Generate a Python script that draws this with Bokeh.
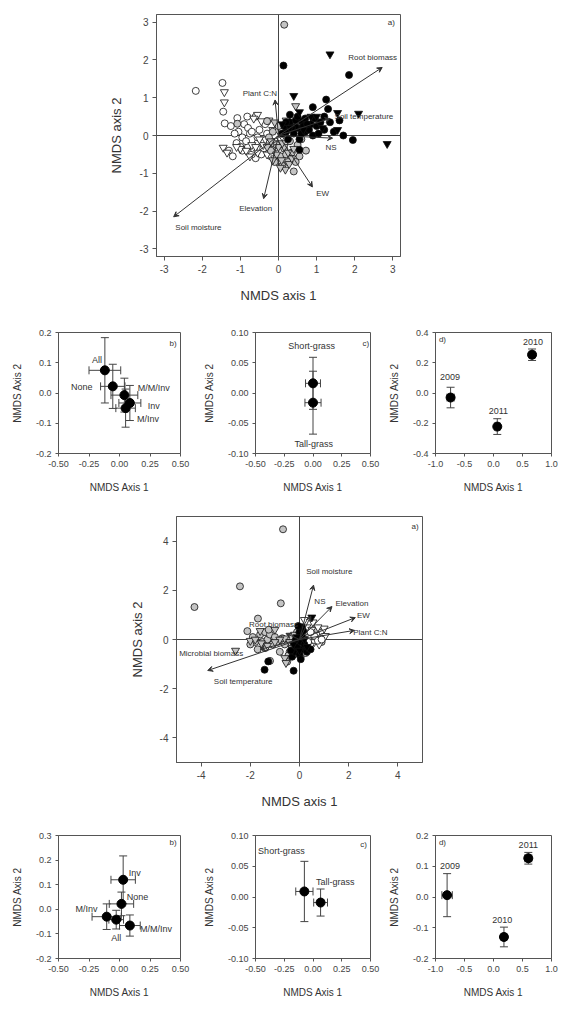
from bokeh.plotting import figure
from bokeh.layouts import column, row
from bokeh.models import (ColumnDataSource, Span, Arrow, VeeHead, Whisker, TeeHead,
                          FixedTicker, PrintfTickFormatter)
from bokeh.core.properties import value
from bokeh.embed import file_html
from bokeh.resources import INLINE

FONT = "Liberation Sans"

# ---------------- Panel 1a: NMDS site scores, first ordination ----------------
p1_open_circ_x = [-2.17, -1.47, -1.45, -1.41, -1.08, -0.82, -1.25, -1.05, -0.9, -0.8, -0.75, -0.95, -1.1, -1.3,
                  -1.2, -0.95, -0.8, -0.6, -0.7, -0.55, -0.5, -0.6, -0.35, -0.3, -0.4, -0.25, -0.15, -0.1, -0.55,
                  -0.85, -1.0, -0.65, -0.45, -0.2, -0.05, -0.7, -1.15]
p1_open_circ_y = [1.18, 1.39, 0.63, 0.32, 0.46, 0.5, 0.25, 0.1, 0.3, 0.2, 0.05, -0.05, -0.2, -0.4,
                  -0.55, -0.4, -0.3, -0.6, -0.5, -0.2, 0.15, 0.5, 0.3, 0.05, -0.35, -0.2, -0.45, 0.0, -0.05,
                  -0.15, -0.3, -0.35, -0.5, -0.55, -0.3, 0.1, 0.05]
p1_open_tri_x = [-1.42, -1.42, -1.45, -1.35, -0.55, -0.45, -0.65, -0.15, -0.25, -1.0, -0.85, -0.7, -0.55, -0.4,
                 -0.3, -0.2, -0.1, -0.75, -1.1, -0.6, -0.35, -0.05, 0.05, -0.5]
p1_open_tri_y = [1.15, 0.88, -0.32, -0.45, 0.55, 0.38, 0.45, 0.15, 0.4, -0.35, -0.4, -0.25, -0.45, -0.25,
                 -0.5, -0.35, -0.6, -0.55, -0.3, -0.3, -0.1, -0.2, -0.1, -0.1]
p1_gray_circ_x = [0.15, -0.3, -1.08, 0.1, -0.15, -0.05, 0.15, 0.35, 0.5, 0.72, 0.4, 0.25, 0.05, -0.2, 0.3,
                  0.55, -0.1, 0.2, 0.6, 0.0, -0.25, 0.45, 0.1]
p1_gray_circ_y = [2.93, 0.38, 0.31, 0.15, 0.1, -0.25, -0.35, -0.45, -0.25, -0.4, -0.95, -0.7, -0.55, -0.4, -0.15,
                  -0.55, -0.7, -0.5, -0.1, 0.25, -0.05, -0.7, -0.8]
p1_gray_tri_x = [0.45, 0.18, 0.08, 0.28, -0.05, 0.15, 0.35, 0.0, -0.15, 0.25, -0.3, 0.4, 0.1, -0.1, 0.2, 0.05, -0.2]
p1_gray_tri_y = [0.78, -0.9, -0.65, -0.75, -0.5, -0.3, -0.6, -0.3, -0.65, -0.45, -0.3, -0.35, -0.2, 0.35, 0.4,
                 -0.85, -0.15]
p1_black_circ_x = [0.13, 1.85, 1.25, 0.9, 1.3, 1.2, 1.35, 1.6, 1.7, 1.95, 0.85, 0.3, 0.5, 0.6, 0.2, 0.4, 0.7,
                   1.0, 0.55, 0.55, 0.9, 0.3, 0.45, 0.15, 0.25, 1.1, 0.95, 0.7, 0.65, 0.45, 0.8, 1.05, 0.35,
                   0.2, 0.6, 0.75, 1.45, 1.2, 0.5, 0.1]
p1_black_circ_y = [1.85, 1.6, 0.95, 0.75, 0.7, 0.5, 0.35, 0.4, 0.0, -0.12, 0.3, 0.35, 0.2, 0.38, 0.1, 0.05, 0.1,
                   0.25, -0.1, -0.38, 0.0, 0.55, 0.4, 0.25, -0.1, 0.35, 0.45, 0.45, 0.25, 0.22, 0.15, 0.05, 0.2,
                   0.35, 0.05, 0.3, 0.1, 0.15, 0.5, 0.05]
p1_black_tri_x = [1.35, 2.1, 2.85, 0.4, 1.55, 1.55, 0.55, 0.85, 0.1, 0.3, 1.0, 0.65, 1.15]
p1_black_tri_y = [2.15, 0.58, -0.22, 1.05, 0.6, 0.15, 0.62, 0.5, 0.3, 0.2, 0.5, 0.15, 0.2]

p1_vectors = ["Root biomass", "Plant C:N", "Soil temperature", "NS", "EW", "Elevation", "Soil moisture"]
p1_vec_x = [2.72, -0.09, 1.35, 1.42, 0.89, -0.39, -2.75]
p1_vec_y = [1.80, 0.94, 0.45, -0.07, -1.36, -1.67, -2.15]
p1_vec_lab_x = [2.47, -0.49, 2.24, 1.38, 1.16, -0.6, -2.1]
p1_vec_lab_y = [2.06, 1.10, 0.50, -0.31, -1.53, -1.93, -2.43]

# ---------------- Panel 1b-d: group centroids, first ordination ----------------
b1_groups = ["All", "None", "M/M/Inv", "Inv", "M/Inv"]
b1_x = [-0.12, -0.055, 0.04, 0.085, 0.05]
b1_y = [0.075, 0.022, -0.007, -0.033, -0.05]
b1_xerr = [0.13, 0.10, 0.11, 0.09, 0.08]
b1_yerr = [0.108, 0.073, 0.056, 0.058, 0.063]
b1_lab_x = [-0.185, -0.31, 0.28, 0.28, 0.234]
b1_lab_y = [0.109, 0.021, 0.016, -0.043, -0.087]

c1_groups = ["Short-grass", "Tall-grass"]
c1_x = [0.0, 0.0]
c1_y = [0.016, -0.016]
c1_xerr = [0.065, 0.07]
c1_yerr = [0.043, 0.052]
c1_lab_x = [-0.012, 0.007]
c1_lab_y = [0.077, -0.085]

d1_years = ["2009", "2010", "2011"]
d1_x = [-0.74, 0.665, 0.065]
d1_y = [-0.03, 0.253, -0.222]
d1_xerr = [0.06, 0.05, 0.05]
d1_yerr = [0.068, 0.038, 0.052]
d1_lab_x = [-0.75, 0.68, 0.085]
d1_lab_y = [0.105, 0.34, -0.12]

# ---------------- Panel 2a: NMDS site scores, second ordination ----------------
p2_gray_circ_x = [-0.67, -2.42, -4.27, -0.76, -1.69, -2.12, -1.2, -1.9, -1.8, -1.6, -1.5, -1.4, -1.3, -1.2, -1.1,
                  -1.7, -1.4, -0.9, -0.6, -0.4, -0.5, -0.2, 0.05, 0.2, 0.1, -0.3, -0.1, 0.3, 0.5, 0.6, 0.8,
                  0.9, 0.4, 0.7, -1.25, -0.8, -0.3, 0.0, -2.0, -1.0, -0.45, 0.25, -0.7]
p2_gray_circ_y = [4.48, 2.16, 1.32, 1.47, 0.85, 0.34, -0.87, 0.1, -0.1, 0.2, -0.1, 0.3, 0.0, 0.2, -0.2,
                  -0.4, -0.35, -0.1, -0.2, -0.5, -0.9, -0.6, -0.7, -0.4, -0.2, 0.1, 0.3, 0.2, 0.3, 0.0, 0.1,
                  -0.1, -0.2, 0.4, 0.4, -0.5, -0.3, 0.0, -0.2, 0.1, -0.65, -0.55, 0.05]
p2_open_tri_x = [0.3, 0.5, 0.7, 0.9, 1.05, 0.6, 0.8, 0.4, 1.0, 0.2, 0.55, 0.75, 0.45]
p2_open_tri_y = [0.5, 0.4, 0.2, 0.3, 0.15, -0.1, -0.2, 0.1, 0.45, 0.8, 0.7, 0.5, -0.25]
p2_open_circ_x = [0.6, 0.75, 0.9, 0.45, 0.35]
p2_open_circ_y = [0.15, -0.05, 0.0, 0.3, -0.1]
p2_gray_tri_x = [-2.6, -2.0, -1.8, -1.55, -1.3, -1.6, -1.0, -0.6, -0.4, -0.6, -0.55, -0.3, -0.8, -1.0, -0.2,
                 0.0, -0.15]
p2_gray_tri_y = [-0.45, -0.05, 0.0, -0.15, -0.25, 0.35, 0.4, 0.05, -0.1, -0.75, -0.95, -0.35, 0.0, -0.1, 0.2,
                 0.2, -0.1]
p2_black_circ_x = [-1.27, -1.42, -0.24, -0.3, -0.2, 0.0, 0.1, -0.1, 0.05, 0.1, 0.0, 0.1, 0.2, -0.15, 0.3,
                   0.45, 0.05, -0.35, 0.15, -0.05]
p2_black_circ_y = [-0.89, -1.23, -1.27, -0.7, -0.5, -0.6, -0.4, -0.3, -0.1, 0.1, 0.3, 0.5, -0.2, 0.0, -0.5,
                   -0.4, -0.8, -0.45, 0.35, 0.55]
p2_black_tri_x = [0.5, 0.2, -0.1, 0.3, 0.0, -0.25]
p2_black_tri_y = [0.9, 0.0, 0.1, -0.3, -0.45, -0.2]

p2_vectors = ["Soil moisture", "NS", "Elevation", "EW", "Plant C:N", "Root biomass",
              "Microbial biomass", "Soil temperature"]
p2_vec_x = [0.57, 0.46, 1.32, 2.27, 2.23, -0.55, -1.6, -3.73]
p2_vec_y = [2.21, 0.95, 1.34, 0.89, 0.37, 0.25, -0.4, -1.26]
p2_vec_lab_x = [1.21, 0.83, 2.13, 2.6, 2.88, -1.06, -3.59, -2.29]
p2_vec_lab_y = [2.77, 1.54, 1.45, 0.98, 0.3, 0.59, -0.57, -1.7]

# ---------------- Panel 2b-d: group centroids, second ordination ----------------
b2_groups = ["Inv", "None", "M/Inv", "All", "M/M/Inv"]
b2_x = [0.03, 0.016, -0.105, -0.027, 0.085]
b2_y = [0.12, 0.022, -0.03, -0.042, -0.066]
b2_xerr = [0.10, 0.10, 0.12, 0.06, 0.085]
b2_yerr = [0.097, 0.048, 0.052, 0.038, 0.043]
b2_lab_x = [0.125, 0.148, -0.27, -0.027, 0.30]
b2_lab_y = [0.146, 0.049, 0.0, -0.118, -0.082]

c2_groups = ["Short-grass", "Tall-grass"]
c2_x = [-0.075, 0.066]
c2_y = [0.009, -0.009]
c2_xerr = [0.075, 0.06]
c2_yerr = [0.049, 0.022]
c2_lab_x = [-0.275, 0.194]
c2_lab_y = [0.074, 0.025]

d2_years = ["2009", "2010", "2011"]
d2_x = [-0.8, 0.18, 0.6]
d2_y = [0.006, -0.13, 0.126]
d2_xerr = [0.09, 0.05, 0.06]
d2_yerr = [0.07, 0.032, 0.019]
d2_lab_x = [-0.75, 0.15, 0.6]
d2_lab_y = [0.1, -0.075, 0.17]

AX_COL = "#555555"
TXT_COL = "#333333"


def make_fig(xr, yr, fw, fh, left, right, top, bottom, xticks, yticks, xfmt, yfmt,
             xlabel, ylabel, tick_px, lab_px, x_stand, y_stand, tick_out):
    # outer size is frame + borders, so the frame sits exactly at (left, top)
    p = figure(x_range=xr, y_range=yr, width=left + fw + right, height=top + fh + bottom,
               min_border_left=left, min_border_right=right,
               min_border_top=top, min_border_bottom=bottom,
               output_backend="svg", toolbar_location=None, tools="",
               background_fill_color="white", border_fill_color="white")
    p.outline_line_color = AX_COL
    p.outline_line_width = 1
    p.xgrid.visible = False
    p.ygrid.visible = False
    p.xaxis.ticker = FixedTicker(ticks=xticks)
    p.yaxis.ticker = FixedTicker(ticks=yticks)
    p.xaxis.formatter = PrintfTickFormatter(format=xfmt)
    p.yaxis.formatter = PrintfTickFormatter(format=yfmt)
    p.xaxis.axis_label = xlabel
    p.yaxis.axis_label = ylabel
    for ax in (p.xaxis, p.yaxis):
        ax.axis_line_color = AX_COL
        ax.major_tick_line_color = AX_COL
        ax.major_tick_in = 0
        ax.major_tick_out = tick_out
        ax.minor_tick_line_color = None
        ax.major_label_text_font = FONT
        ax.major_label_text_font_size = f"{tick_px}px"
        ax.major_label_text_color = "#444444"
        ax.major_label_standoff = 4
        ax.axis_label_text_font = FONT
        ax.axis_label_text_font_size = f"{lab_px}px"
        ax.axis_label_text_font_style = "normal"
        ax.axis_label_text_color = "#333333"
    p.xaxis.axis_label_standoff = x_stand
    p.yaxis.axis_label_standoff = y_stand
    return p


def add_text(p, xs, ys, texts, size, align="center"):
    src = ColumnDataSource(dict(x=xs, y=ys, t=texts))
    p.text("x", "y", text="t", source=src, text_font=value(FONT), text_font_size=f"{size}px",
           text_align=align, text_baseline="middle", text_color=TXT_COL)


def add_pts(p, xs, ys, marker, fill, size):
    p.scatter(xs, ys, marker=marker, size=size, fill_color=fill, line_color="#111111", line_width=0.8)


def add_vectors(p, xe, ye, head):
    src = ColumnDataSource(dict(x0=[0] * len(xe), y0=[0] * len(ye), x1=xe, y1=ye))
    p.add_layout(Arrow(source=src, x_start="x0", y_start="y0", x_end="x1", y_end="y1",
                       line_color="#333333", line_width=1,
                       end=VeeHead(size=head, line_color="#333333", fill_color="#333333", line_width=1)))


def add_zero_lines(p):
    p.add_layout(Span(location=0, dimension="height", line_color="#444444", line_width=1, level="underlay"))
    p.add_layout(Span(location=0, dimension="width", line_color="#444444", line_width=1, level="underlay"))


def add_centroids(p, xs, ys, xerr, yerr, cap):
    src = ColumnDataSource(dict(
        x=xs, y=ys,
        xl=[a - e for a, e in zip(xs, xerr)], xu=[a + e for a, e in zip(xs, xerr)],
        yl=[a - e for a, e in zip(ys, yerr)], yu=[a + e for a, e in zip(ys, yerr)]))
    for dim, base, lo, hi in (("height", "x", "yl", "yu"), ("width", "y", "xl", "xu")):
        p.add_layout(Whisker(source=src, base=base, lower=lo, upper=hi, dimension=dim,
                             line_color="#444444", line_width=1,
                             lower_head=TeeHead(size=cap, line_color="#444444", line_width=1),
                             upper_head=TeeHead(size=cap, line_color="#444444", line_width=1)))
    p.scatter("x", "y", source=src, marker="circle", size=9, fill_color="black", line_color="black")


# ---- first ordination, site scores ----
p1 = make_fig((-3.2, 3.2), (-3.2, 3.2), 244, 242, 156, 161, 14, 54,
              [-3, -2, -1, 0, 1, 2, 3], [-3, -2, -1, 0, 1, 2, 3], "%d", "%d",
              "NMDS axis 1", "NMDS axis 2", 10, 13, 12, 13, 4)
add_zero_lines(p1)
add_pts(p1, p1_open_circ_x, p1_open_circ_y, "circle", "white", 7)
add_pts(p1, p1_open_tri_x, p1_open_tri_y, "inverted_triangle", "white", 8)
add_pts(p1, p1_gray_circ_x, p1_gray_circ_y, "circle", "#c4c4c4", 7)
add_pts(p1, p1_gray_tri_x, p1_gray_tri_y, "inverted_triangle", "#c4c4c4", 8)
add_pts(p1, p1_black_circ_x, p1_black_circ_y, "circle", "black", 7)
add_pts(p1, p1_black_tri_x, p1_black_tri_y, "inverted_triangle", "black", 8)
add_vectors(p1, p1_vec_x, p1_vec_y, 5)
add_text(p1, p1_vec_lab_x, p1_vec_lab_y, p1_vectors, 8)
add_text(p1, [2.96], [2.98], ["a)"], 8)

# ---- first ordination, centroids ----
small = dict(tick_px=9, lab_px=10, x_stand=12, y_stand=10, tick_out=3)
b1 = make_fig((-0.5, 0.5), (-0.2, 0.2), 122, 121, 58, 20, 22, 47,
              [-0.5, -0.25, 0, 0.25, 0.5], [-0.2, -0.1, 0, 0.1, 0.2], "%.2f", "%.1f",
              "NMDS Axis 1", "NMDS Axis 2", **small)
add_centroids(b1, b1_x, b1_y, b1_xerr, b1_yerr, 8)
add_text(b1, b1_lab_x, b1_lab_y, b1_groups, 9)
add_text(b1, [0.44], [0.164], ["b)"], 8)

c1 = make_fig((-0.5, 0.5), (-0.1, 0.1), 121, 121, 49, 15, 22, 47,
              [-0.5, -0.25, 0, 0.25, 0.5], [-0.1, -0.05, 0, 0.05, 0.1], "%.2f", "%.2f",
              "NMDS Axis 1", "NMDS Axis 2", **small)
add_centroids(c1, c1_x, c1_y, c1_xerr, c1_yerr, 8)
add_text(c1, c1_lab_x, c1_lab_y, c1_groups, 9)
add_text(c1, [0.46], [0.082], ["c)"], 8)

d1 = make_fig((-1, 1), (-0.4, 0.4), 118, 121, 48, 10, 22, 47,
              [-1, -0.5, 0, 0.5, 1], [-0.4, -0.2, 0, 0.2, 0.4], "%.1f", "%.1f",
              "NMDS Axis 1", "NMDS Axis 2", **small)
add_centroids(d1, d1_x, d1_y, d1_xerr, d1_yerr, 8)
add_text(d1, d1_lab_x, d1_lab_y, d1_years, 9)
add_text(d1, [-0.88], [0.356], ["d)"], 8)

# ---- second ordination, site scores ----
p2 = make_fig((-5, 5), (-5, 5), 246, 246, 176, 139, 16, 53,
              [-4, -2, 0, 2, 4], [-4, -2, 0, 2, 4], "%d", "%d",
              "NMDS axis 1", "NMDS axis 2", 10, 13, 12, 12, 4)
add_zero_lines(p2)
add_pts(p2, p2_gray_circ_x, p2_gray_circ_y, "circle", "#c4c4c4", 7)
add_pts(p2, p2_gray_tri_x, p2_gray_tri_y, "inverted_triangle", "#c4c4c4", 8)
add_pts(p2, p2_open_tri_x, p2_open_tri_y, "inverted_triangle", "white", 8)
add_pts(p2, p2_open_circ_x, p2_open_circ_y, "circle", "white", 7)
add_pts(p2, p2_black_circ_x, p2_black_circ_y, "circle", "black", 7)
add_pts(p2, p2_black_tri_x, p2_black_tri_y, "inverted_triangle", "black", 8)
add_vectors(p2, p2_vec_x, p2_vec_y, 5)
add_text(p2, p2_vec_lab_x, p2_vec_lab_y, p2_vectors, 8)
add_text(p2, [4.7], [4.6], ["a)"], 8)

# ---- second ordination, centroids ----
b2 = make_fig((-0.5, 0.5), (-0.2, 0.3), 122, 123, 58, 20, 20, 50,
              [-0.5, -0.25, 0, 0.25, 0.5], [-0.2, -0.1, 0, 0.1, 0.2, 0.3], "%.2f", "%.1f",
              "NMDS Axis 1", "NMDS Axis 2", **small)
add_centroids(b2, b2_x, b2_y, b2_xerr, b2_yerr, 8)
add_text(b2, b2_lab_x, b2_lab_y, b2_groups, 9)
add_text(b2, [0.44], [0.27], ["b)"], 8)

c2 = make_fig((-0.5, 0.5), (-0.1, 0.1), 121, 123, 49, 15, 20, 50,
              [-0.5, -0.25, 0, 0.25, 0.5], [-0.1, -0.05, 0, 0.05, 0.1], "%.2f", "%.2f",
              "NMDS Axis 1", "NMDS Axis 2", **small)
add_centroids(c2, c2_x, c2_y, c2_xerr, c2_yerr, 8)
add_text(c2, c2_lab_x, c2_lab_y, c2_groups, 9)
add_text(c2, [0.44], [0.086], ["c)"], 8)

d2 = make_fig((-1, 1), (-0.2, 0.2), 118, 123, 48, 10, 20, 50,
              [-1, -0.5, 0, 0.5, 1], [-0.2, -0.1, 0, 0.1, 0.2], "%.1f", "%.1f",
              "NMDS Axis 1", "NMDS Axis 2", **small)
add_centroids(d2, d2_x, d2_y, d2_xerr, d2_yerr, 8)
add_text(d2, d2_lab_x, d2_lab_y, d2_years, 9)
add_text(d2, [-0.88], [0.178], ["d)"], 8)

# each big panel sits in its own row so its frame keeps its own left offset
layout = column(row(p1, spacing=0), row(b1, c1, d1, spacing=0),
                row(p2, spacing=0), row(b2, c2, d2, spacing=0), spacing=0)

open("out.html", "w").write(file_html(layout, INLINE))
